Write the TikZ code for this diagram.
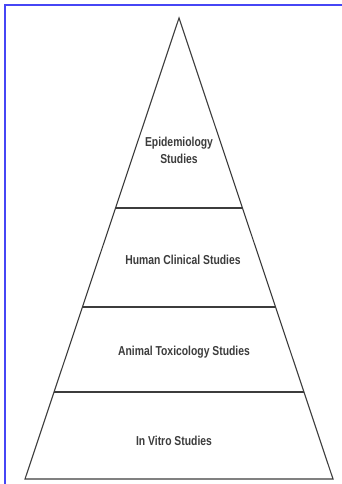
\documentclass[tikz,border=0pt]{standalone}
\usepackage{fontspec}
\newfontfamily\labelfont[FakeStretch=0.8]{Liberation Sans}
\usetikzlibrary{calc}
\definecolor{frameblue}{RGB}{70,70,245}
\definecolor{inkgray}{RGB}{60,60,60}
\tikzset{
  edge/.style={draw=inkgray, line width=1.1bp, line join=miter},
  tier/.style={draw=inkgray, line width=1.4bp},
  lbl/.style={font=\labelfont\bfseries\fontsize{13}{17}\selectfont, text=inkgray, align=center, inner sep=0pt},
  frame/.style={draw=frameblue, line width=1.6bp}
}
\begin{document}
\begin{tikzpicture}[x=1bp,y=1bp]
\useasboundingbox (0,0) rectangle (341,484);
\fill[white] (0,0) rectangle (341,484);
% blue frame (top and left edges only visible)
\coordinate (f1) at (5,-2);
\coordinate (f2) at (5,479);
\coordinate (f3) at (343,479);
\draw[frame] (f1) -- (f2) -- (f3);
% pyramid
\coordinate (apex) at (179,466);
\coordinate (bl) at (25,5);
\coordinate (br) at (333,5);
\draw[edge] (apex) -- (bl) -- (br) -- cycle;
\coordinate (l1) at ($(apex)!0.412!(bl)$);
\coordinate (r1) at ($(apex)!0.412!(br)$);
\coordinate (l2) at ($(apex)!0.627!(bl)$);
\coordinate (r2) at ($(apex)!0.627!(br)$);
\coordinate (l3) at ($(apex)!0.811!(bl)$);
\coordinate (r3) at ($(apex)!0.811!(br)$);
\draw[tier] (l1) -- (r1);
\draw[tier] (l2) -- (r2);
\draw[tier] (l3) -- (r3);
% labels
\node[lbl] (epi) at (179,334) {Epidemiology\\Studies};
\node[lbl] (hum) at (183,224) {Human Clinical Studies};
\node[lbl] (ani) at (184,132) {Animal Toxicology Studies};
\node[lbl] (vit) at (174,43) {In Vitro Studies};
\end{tikzpicture}
\end{document}
